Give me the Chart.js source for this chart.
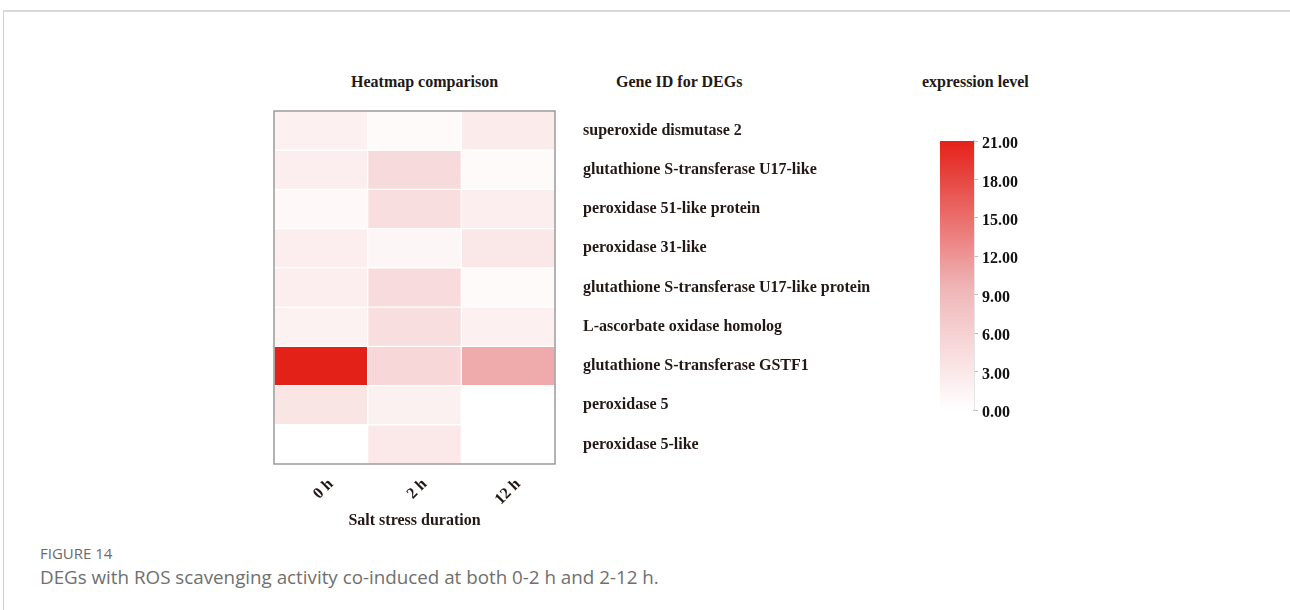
<!DOCTYPE html>
<html>
<head>
<meta charset="utf-8">
<script src="https://cdn.jsdelivr.net/npm/chart.js@4.4.1/dist/chart.umd.min.js"></script>
<style>
  html, body { margin: 0; padding: 0; background: #fff; }
  body { width: 1290px; height: 610px; position: relative; overflow: hidden; }
  .frame { position: absolute; left: 3px; top: 10px; right: 0; bottom: -5px;
           border-top: 2px solid #d9d9d9; border-left: 1px solid #cfcfcf; }
  .head { position: absolute; font: bold 16px "Liberation Serif", "Times New Roman", serif;
          color: #231815; line-height: 18px; white-space: nowrap; }
  .box { position: absolute; }
  .fig { position: absolute; left: 40px; top: 543px; font: 15px "Open Sans", sans-serif; color: #6b6b6b; }
  .cap { position: absolute; left: 40px; top: 564px; font: 18.8px "Open Sans", sans-serif; color: #6f6f6f; white-space: nowrap; }
</style>
</head>
<body>
<div class="frame"></div>
<div class="head" style="left:351px; top:73px;">Heatmap comparison</div>
<div class="head" style="left:616px; top:73px;">Gene ID for DEGs</div>
<div class="head" style="left:922px; top:73px;">expression level</div>

<div class="box" style="left:264px; top:66px; width:621px; height:468px;"><canvas id="heat"></canvas></div>
<div class="box" style="left:940px; top:121px; width:104px; height:309px;"><canvas id="scale"></canvas></div>

<div class="fig">FIGURE 14</div>
<div class="cap">DEGs with ROS scavenging activity co-induced at both 0-2 h and 2-12 h.</div>

<script>
// Gene rows (top to bottom) and time points (columns)
const genes = [
  'superoxide dismutase 2',
  'glutathione S-transferase U17-like',
  'peroxidase 51-like protein',
  'peroxidase 31-like',
  'glutathione S-transferase U17-like protein',
  'L-ascorbate oxidase homolog',
  'glutathione S-transferase GSTF1',
  'peroxidase 5',
  'peroxidase 5-like'
];
const timePoints = ['0 h', '2 h', '12 h'];

// Expression level of each gene at each time point
const expr0h  = [1.9, 2.2, 0.9, 2.2, 2.2, 1.7, 21.0, 3.4, 0.0];
const expr2h  = [0.6, 4.8, 4.3, 1.2, 4.5, 4.3, 5.2, 1.8, 2.8];
const expr12h = [2.6, 0.6, 2.2, 3.0, 0.6, 1.9, 10.4, 0.0, 0.0];
const exprByTime = [expr0h, expr2h, expr12h];

// Colour scale range and legend ticks
const scaleMin = 0;
const scaleMax = 21;
const scaleStep = 3;

// Colour ramp: white -> pale pink -> red
const rampStops = [
  [0.00, [255, 255, 255]],
  [0.45, [240, 182, 184]],
  [1.00, [228, 33, 25]]
];
function colorFor(v) {
  const t = Math.min(1, Math.max(0, (v - scaleMin) / (scaleMax - scaleMin)));
  for (let i = 1; i < rampStops.length; i++) {
    const [p1, c1] = rampStops[i];
    const [p0, c0] = rampStops[i - 1];
    if (t <= p1) {
      const f = (t - p0) / (p1 - p0);
      const c = c0.map((a, k) => Math.round(a + (c1[k] - a) * f));
      return `rgb(${c[0]},${c[1]},${c[2]})`;
    }
  }
  const c = rampStops[rampStops.length - 1][1];
  return `rgb(${c[0]},${c[1]},${c[2]})`;
}

const serifBold = (size) => ({ family: '"Liberation Serif", "Times New Roman", serif', size, weight: 'bold' });

// Thin grey box around the heatmap cells
const plotFrame = {
  id: 'plotFrame',
  afterDatasetsDraw(chart) {
    const { ctx, chartArea: a } = chart;
    ctx.save();
    ctx.strokeStyle = '#9a9a9a';
    ctx.lineWidth = 1.5;
    ctx.strokeRect(a.left, a.top, a.right - a.left, a.bottom - a.top);
    ctx.restore();
  }
};

new Chart(document.getElementById('heat'), {
  type: 'bar',
  data: {
    labels: genes,
    datasets: exprByTime.map((vals, c) => ({
      label: timePoints[c],
      data: genes.map(() => [c, c + 1]),
      backgroundColor: vals.map(colorFor),
      borderColor: '#ffffff',
      borderWidth: 1,
      borderSkipped: false,
      grouped: false,
      barPercentage: 1,
      categoryPercentage: 1
    }))
  },
  options: {
    indexAxis: 'y',
    responsive: true,
    maintainAspectRatio: false,
    animation: false,
    layout: { padding: { left: 10, top: 45, right: 0, bottom: 0 } },
    plugins: { legend: { display: false }, tooltip: { enabled: false } },
    scales: {
      x: {
        type: 'linear',
        position: 'bottom',
        min: 0,
        max: timePoints.length,
        grid: { display: false },
        border: { display: false },
        afterBuildTicks: (s) => { s.ticks = timePoints.map((_, i) => ({ value: i + 0.5 })); },
        afterFit: (s) => { s.height = 70; },
        ticks: {
          callback: (v) => timePoints[Math.round(v - 0.5)],
          minRotation: 45,
          maxRotation: 45,
          labelOffset: 10,
          padding: 3,
          font: serifBold(16),
          color: '#231815',
          autoSkip: false
        },
        title: {
          display: true,
          text: 'Salt stress duration',
          font: serifBold(16),
          color: '#231815',
          padding: { top: 0, bottom: 4 }
        }
      },
      y: {
        type: 'category',
        position: 'right',
        grid: { display: false },
        border: { display: false },
        afterFit: (s) => { s.width = 330; },
        ticks: { padding: 20, font: serifBold(16), color: '#231815', autoSkip: false }
      }
    }
  },
  plugins: [plotFrame]
});

// Colour legend: one bar spanning the full range, filled with the same ramp
new Chart(document.getElementById('scale'), {
  type: 'bar',
  data: {
    labels: ['expression level'],
    datasets: [{
      data: [[scaleMin, scaleMax]],
      backgroundColor: (ctx) => {
        const a = ctx.chart.chartArea;
        if (!a) return colorFor(scaleMax);
        const g = ctx.chart.ctx.createLinearGradient(0, a.bottom, 0, a.top);
        rampStops.forEach(([p, c]) => g.addColorStop(p, `rgb(${c[0]},${c[1]},${c[2]})`));
        return g;
      },
      borderWidth: 0,
      barPercentage: 1,
      categoryPercentage: 1
    }]
  },
  options: {
    responsive: true,
    maintainAspectRatio: false,
    animation: false,
    layout: { padding: { left: 0, top: 20, right: 0, bottom: 20 } },
    plugins: { legend: { display: false }, tooltip: { enabled: false } },
    scales: {
      x: { display: false },
      y: {
        position: 'right',
        min: scaleMin,
        max: scaleMax,
        afterFit: (s) => { s.width = 70; },
        grid: { display: true, drawOnChartArea: false, drawTicks: true, tickLength: 4, color: '#bdbdbd' },
        border: { display: true, color: '#cccccc', width: 1.5 },
        ticks: {
          stepSize: scaleStep,
          padding: 4,
          labelOffset: 3,
          font: serifBold(16),
          color: '#111111',
          callback: (v) => Number(v).toFixed(2)
        }
      }
    }
  }
});
</script>
</body>
</html>
